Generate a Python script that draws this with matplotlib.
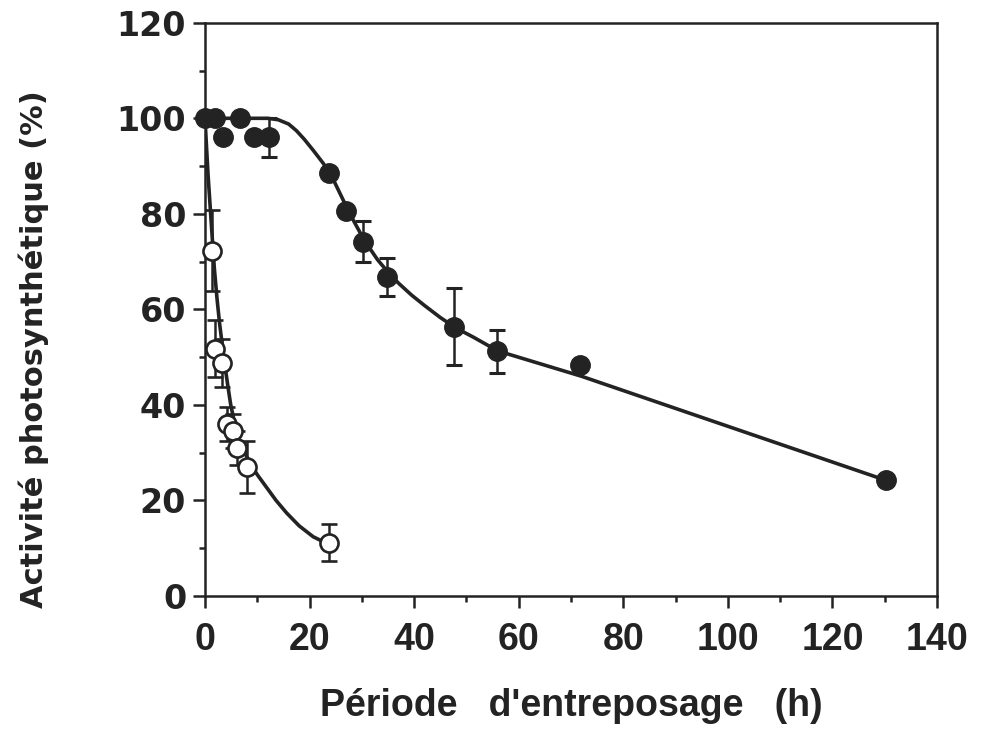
import numpy as np
import matplotlib
matplotlib.use('Agg')
import matplotlib.pyplot as plt

# Filled circles: measured activity (%) vs storage time (h)
hours_filled = [0, 1.9, 3.5, 6.7, 9.3, 12.3, 23.8, 27.0, 30.3, 34.8, 47.7, 55.8, 71.7, 130.3]
activity_filled = [100, 100, 96, 100, 96, 96, 88.5, 80.5, 74.2, 66.8, 56.4, 51.2, 48.4, 24.3]
err_filled = [0, 0, 0, 0, 0, 4, 0, 0, 4.2, 4.0, 8.1, 4.5, 0, 0]

# Open circles
hours_open = [1.3, 2.0, 3.3, 4.2, 5.4, 6.1, 8.1, 23.8]
activity_open = [72.3, 51.8, 48.8, 36.0, 34.5, 31.0, 27.0, 11.2]
err_open = [8.5, 6.0, 5.0, 3.5, 3.5, 3.5, 5.4, 3.8]

# Hand-fitted curves through the data
fit_filled_x = [0, 12, 14, 16, 17.5, 19, 20.7, 22.6, 24, 25.5, 27, 28.5, 30, 31.5, 33,
                35, 37, 39.5, 42, 45, 48, 51.3, 56, 72, 130]
fit_filled_y = [100, 100, 99.7, 98.8, 97.4, 95.6, 93.3, 90.6, 88.4, 85.0, 81.6, 78.4,
                75.4, 72.8, 70.4, 67.8, 65.5, 63.0, 60.8, 58.3, 56.1, 54.2, 51.3, 46.0, 24.3]
fit_open_x = [0, 0.6, 1.3, 1.8, 2.3, 2.8, 3.2, 3.8, 4.4, 4.9, 5.6, 6.4, 7.4, 8.6,
              10.0, 11.8, 13.6, 15.6, 18.0, 20.7, 22.2, 23.8]
fit_open_y = [100, 88, 76.5, 68.5, 62.3, 57.0, 53.5, 48.3, 43.8, 40.2, 36.5, 33.2,
              30.4, 27.9, 25.4, 22.7, 20.0, 17.4, 14.7, 12.4, 11.6, 11.1]

ink = '#232323'

fig = plt.figure(figsize=(9.84, 7.34), dpi=100)
ax = fig.add_axes([0.2083, 0.188, 0.744, 0.781])

ax.plot(fit_filled_x, fit_filled_y, color=ink, lw=2.6, solid_capstyle='round', zorder=2)
ax.plot(fit_open_x, fit_open_y, color=ink, lw=2.6, solid_capstyle='round', zorder=2)

eb1 = ax.errorbar(hours_filled, activity_filled, yerr=err_filled, fmt='o', color=ink,
                  ms=14, capsize=6, elinewidth=1.8, capthick=2.2, zorder=3)
eb2 = ax.errorbar(hours_open, activity_open, yerr=err_open, fmt='o', color=ink,
                  mfc='white', mec=ink, mew=1.9, ms=13, capsize=6, elinewidth=1.8,
                  capthick=2.2, zorder=4)
# let the markers sitting on the y axis show in full
for eb in (eb1, eb2):
    eb[0].set_clip_on(False)

ax.set_xlim(0, 140)
ax.set_ylim(0, 120)
ax.set_xticks(np.arange(0, 141, 20))
ax.set_yticks(np.arange(0, 121, 20))
ax.set_xticks(np.arange(10, 140, 10), minor=True)
ax.set_yticks(np.arange(10, 120, 10), minor=True)

for s in ax.spines.values():
    s.set_linewidth(1.8)
    s.set_color(ink)

ax.tick_params(which='major', direction='out', length=8.5, width=1.8, color=ink)
ax.tick_params(which='minor', direction='out', length=4.5, width=1.8, color=ink)
ax.tick_params(axis='x', pad=10)
ax.tick_params(axis='y', pad=5)

for lab in ax.get_yticklabels():
    lab.set_fontfamily('DejaVu Sans')
    lab.set_fontweight('bold')
    lab.set_fontsize(24)
    lab.set_color(ink)
for lab in ax.get_xticklabels():
    lab.set_fontfamily('Liberation Sans')
    lab.set_fontweight('bold')
    lab.set_fontsize(27)
    lab.set_color(ink)

ax.set_xlabel("Période   d'entreposage   (h)", fontfamily='Liberation Sans',
              fontweight='bold', fontsize=27, color=ink, labelpad=22)
ax.set_ylabel('Activité photosynthétique (%)', fontfamily='DejaVu Sans',
              fontweight='bold', fontsize=22, color=ink)
ax.yaxis.set_label_coords(-0.213, 0.43)

fig.savefig('out.png', dpi=100)
